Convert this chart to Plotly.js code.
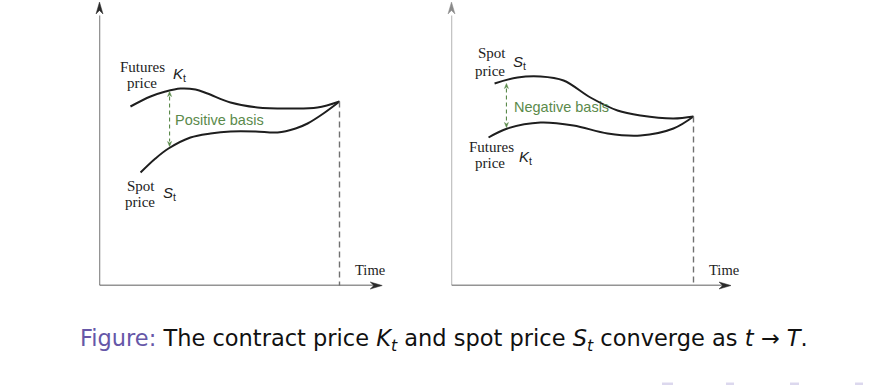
<!DOCTYPE html>
<html>
<head>
<meta charset="utf-8">
<script src="https://cdn.plot.ly/plotly-3.0.1.min.js"></script>
<style>html,body{margin:0;padding:0;background:#fff;}#chart{width:876px;height:385px;}</style>
</head>
<body>
<div id="chart"></div>
<script>
// ---- data (time t in arbitrary units, expiry at T = 10) ----
const expiryT = 10;
const leftFutT  = [1.29, 2.125, 2.75, 3.375, 4.0, 4.5, 5.46, 6.58, 7.96, 9.08, 10];
const leftFutP  = [8.95, 9.45, 9.7, 9.85, 9.8, 9.6, 9.15, 8.9, 8.85, 8.9, 9.2];
const leftSpotT = [1.71, 2.33, 2.875, 3.79, 4.625, 5.46, 6.5, 7.42, 8.17, 8.67, 9.33, 10];
const leftSpotP = [5.65, 6.35, 6.85, 7.4, 7.6, 7.7, 7.7, 7.65, 7.85, 8.1, 8.6, 9.2];
const rightSpotT = [1.78, 2.73, 3.68, 4.63, 5.74, 6.86, 7.81, 9.17, 10];
const rightSpotP = [10.1, 10.4, 10.45, 10.25, 9.4, 8.75, 8.5, 8.35, 8.45];
const rightFutT  = [1.53, 2.31, 3.68, 5.04, 6.45, 7.81, 9.17, 10];
const rightFutP  = [7.4, 7.85, 8.15, 8.0, 7.6, 7.5, 7.85, 8.45];
// basis arrows: [t, top price, bottom price]
const leftBasis  = [2.92, 9.7, 6.95];
const rightBasis = [2.27, 10.1, 7.9];
const labels = {
  posBasis: 'Positive basis', negBasis: 'Negative basis',
  futures: 'Futures', spot: 'Spot', price: 'price', time: 'Time', tick: 'T',
  K: '<i>K</i><sub>t</sub>', S: '<i>S</i><sub>t</sub>'
};
const caption = '<span style="color:#6657a8">Figure:</span> The contract price <i>K<sub>t</sub></i> and spot price <i>S<sub>t</sub></i> converge as <i>t</i> \u2192 <i>T</i>.';

// ---- layout helpers ----
const W = 876, H = 385;
const P = (px, py) => [px / W, (H - py) / H];
const curveLine = {color: '#1e1e1e', width: 2, shape: 'spline', smoothing: 1};
const traces = [
  {x: leftFutT, y: leftFutP, xaxis: 'x', yaxis: 'y', mode: 'lines', line: curveLine, hoverinfo: 'skip'},
  {x: leftSpotT, y: leftSpotP, xaxis: 'x', yaxis: 'y', mode: 'lines', line: curveLine, hoverinfo: 'skip'},
  {x: rightSpotT, y: rightSpotP, xaxis: 'x2', yaxis: 'y2', mode: 'lines', line: curveLine, hoverinfo: 'skip'},
  {x: rightFutT, y: rightFutP, xaxis: 'x2', yaxis: 'y2', mode: 'lines', line: curveLine, hoverinfo: 'skip'}
];
const hidden = {showgrid: false, zeroline: false, showline: false, showticklabels: false, ticks: '', fixedrange: true};
const Y0 = 285.5, YTOP = 5.5;           // pixel rows of price 0 and 14
const XL0 = 99.5, XR0 = 451.5;          // pixel columns of t = 0
const yDom = [P(0, Y0)[1], P(0, YTOP)[1]];
const layout = {
  width: W, height: H, margin: {l: 0, r: 0, t: 0, b: 0},
  paper_bgcolor: '#fff', plot_bgcolor: 'rgba(0,0,0,0)', showlegend: false,
  xaxis: Object.assign({domain: [XL0 / W, (XL0 + 288) / W], range: [0, 12]}, hidden),
  yaxis: Object.assign({domain: yDom, range: [0, 14]}, hidden),
  xaxis2: Object.assign({domain: [XR0 / W, (XR0 + 290.4) / W], range: [0, 12], anchor: 'y2'}, hidden),
  yaxis2: Object.assign({domain: yDom, range: [0, 14], anchor: 'x2'}, hidden),
  shapes: [], annotations: []
};
const green = '#5b8a4b';
// arrowhead drawn as a filled path in paper coords; (px,py) tip in pixels, dir 'up'|'down'|'right'
function head(px, py, dir, len, wid, col) {
  const notch = len * 0.3;
  let pts;
  if (dir === 'up') pts = [[px, py], [px - wid / 2, py + len], [px, py + len - notch], [px + wid / 2, py + len]];
  else if (dir === 'down') pts = [[px, py], [px - wid / 2, py - len], [px, py - len + notch], [px + wid / 2, py - len]];
  else pts = [[px, py], [px - len, py - wid / 2], [px - len + notch, py], [px - len, py + wid / 2]];
  const path = 'M' + pts.map(p => { const q = P(p[0], p[1]); return q[0].toFixed(5) + ',' + q[1].toFixed(5); }).join(' L') + ' Z';
  layout.shapes.push({type: 'path', xref: 'paper', yref: 'paper', path: path, fillcolor: col, line: {color: col, width: 0.5}});
}
function panel(ax, basis, x0px, axisCol, yAxisCol, endP, xEnd, pxPerT) {
  const xr = ax === 1 ? 'x' : 'x2', yr = ax === 1 ? 'y' : 'y2';
  // axes
  layout.shapes.push({type: 'line', xref: xr, yref: yr, x0: 0, x1: 0, y0: 0, y1: 13.5, line: {color: yAxisCol, width: 1.3}});
  layout.shapes.push({type: 'line', xref: xr, yref: yr, x0: 0, x1: xEnd - 0.3, y0: 0, y1: 0, line: {color: axisCol, width: 1.3}});
  head(x0px, 2, 'up', 12, 7, yAxisCol);
  head(x0px + xEnd * pxPerT, Y0, 'right', 12, 7, axisCol);
  // expiry dashed line
  layout.shapes.push({type: 'line', xref: xr, yref: yr, x0: expiryT, x1: expiryT, y0: endP, y1: -0.1,
    line: {color: '#707070', width: 1.4, dash: '6px,4px'}});
  layout.annotations.push({xref: xr, yref: yr, x: expiryT, y: -0.38, text: labels.tick, showarrow: false,
    font: {family: 'Liberation Sans', size: 7, color: '#444'}});
  layout.annotations.push({xref: xr, yref: yr, x: expiryT + 0.55, y: 0.78, xanchor: 'left', text: labels.time, showarrow: false,
    font: {family: 'Liberation Serif', size: 14.5, color: '#222'}});
  // basis arrow
  const bx = x0px + basis[0] * pxPerT, byTop = Y0 - basis[1] * 20, byBot = Y0 - basis[2] * 20;
  layout.shapes.push({type: 'line', xref: xr, yref: yr, x0: basis[0], x1: basis[0], y0: basis[1] - 0.25, y1: basis[2] + 0.25,
    line: {color: green, width: 1.1, dash: '4px,3px'}});
  head(bx, byTop, 'up', 5, 4, green);
  head(bx, byBot, 'down', 5, 4, green);
}
panel(1, leftBasis, XL0, '#2a2a2a', '#2a2a2a', leftFutP[leftFutP.length - 1], 11.78, 24);
panel(2, rightBasis, XR0, '#2a2a2a', '#8a8a8a', rightSpotP[rightSpotP.length - 1], 11.55, 24.2);

function txt(px, py, text, font, anchor) {
  const p = P(px, py);
  layout.annotations.push({xref: 'paper', yref: 'paper', x: p[0], y: p[1], text: text, showarrow: false,
    xanchor: anchor || 'center', yanchor: 'middle', font: font});
}
const serif = {family: 'Liberation Serif', size: 15, color: '#222'};
const sym = {family: 'Liberation Sans', size: 15, color: '#222'};
const gfont = {family: 'Liberation Sans', size: 14.5, color: green};
// left labels
txt(142.5, 67, labels.futures, serif); txt(142, 83, labels.price, serif); txt(171, 75, labels.K, sym, 'left');
txt(141, 186, labels.spot, serif); txt(140, 202, labels.price, serif); txt(161, 194, labels.S, sym, 'left');
txt(173, 120, labels.posBasis, gfont, 'left');
// right labels
txt(492, 53, labels.spot, serif); txt(490, 71, labels.price, serif); txt(511, 62, labels.S, sym, 'left');
txt(491, 147, labels.futures, serif); txt(490, 163, labels.price, serif); txt(517, 157, labels.K, sym, 'left');
txt(512, 107, labels.negBasis, gfont, 'left');
// caption
txt(78, 340, caption, {family: 'DejaVu Sans', size: 22.5, color: '#111'}, 'left');
// navigation symbols (faint)
[[662, 673], [726, 734], [790, 799], [855, 863]].forEach(r => {
  layout.shapes.push({type: 'rect', xref: 'paper', yref: 'paper', x0: r[0] / W, x1: r[1] / W, y0: 0, y1: 2.5 / H,
    fillcolor: '#dcd8ee', line: {width: 0}});
});
Plotly.newPlot('chart', traces, layout, {staticPlot: true, displayModeBar: false});
</script>
</body>
</html>
